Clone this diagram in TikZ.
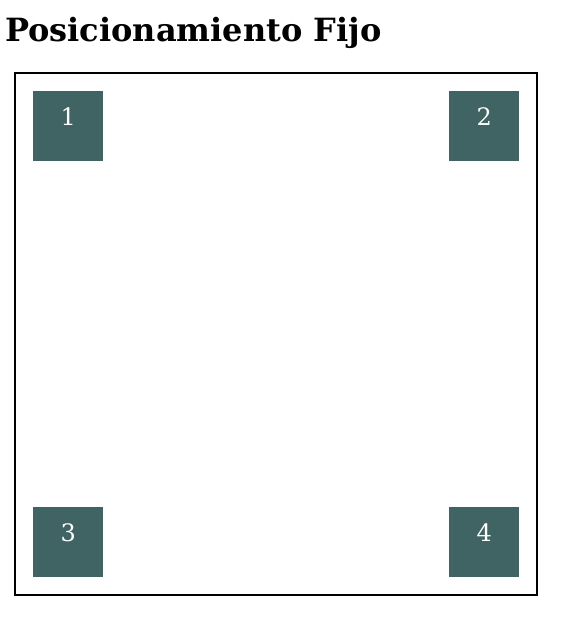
\documentclass[tikz,border=0pt]{standalone}
\usepackage{fontspec}
\setmainfont{DejaVu Serif}
\definecolor{boxc}{RGB}{64,100,99}
\begin{document}
\begin{tikzpicture}[x=1pt,y=-1pt,
  sq/.style={fill=boxc,draw=none,minimum width=70pt,minimum height=70pt,inner sep=0pt,anchor=north west},
  num/.style={text=white,font=\fontsize{24}{24}\selectfont,anchor=base,inner sep=0pt}]
\useasboundingbox (0,0) rectangle (588,633);
\node[anchor=base west,inner sep=0pt,font=\fontsize{32}{32}\selectfont\bfseries] (title) at (5,41) {Posicionamiento Fijo};
\draw[line width=2pt] (15,73) rectangle (537,595);
\node[sq] (b1) at (33,91) {};
\node[sq] (b2) at (449,91) {};
\node[sq] (b3) at (33,507) {};
\node[sq] (b4) at (449,507) {};
\node[num] (n1) at ([yshift=-34pt]b1.north) {1};
\node[num] (n2) at ([yshift=-34pt]b2.north) {2};
\node[num] (n3) at ([yshift=-34pt]b3.north) {3};
\node[num] (n4) at ([yshift=-34pt]b4.north) {4};
\end{tikzpicture}
\end{document}
